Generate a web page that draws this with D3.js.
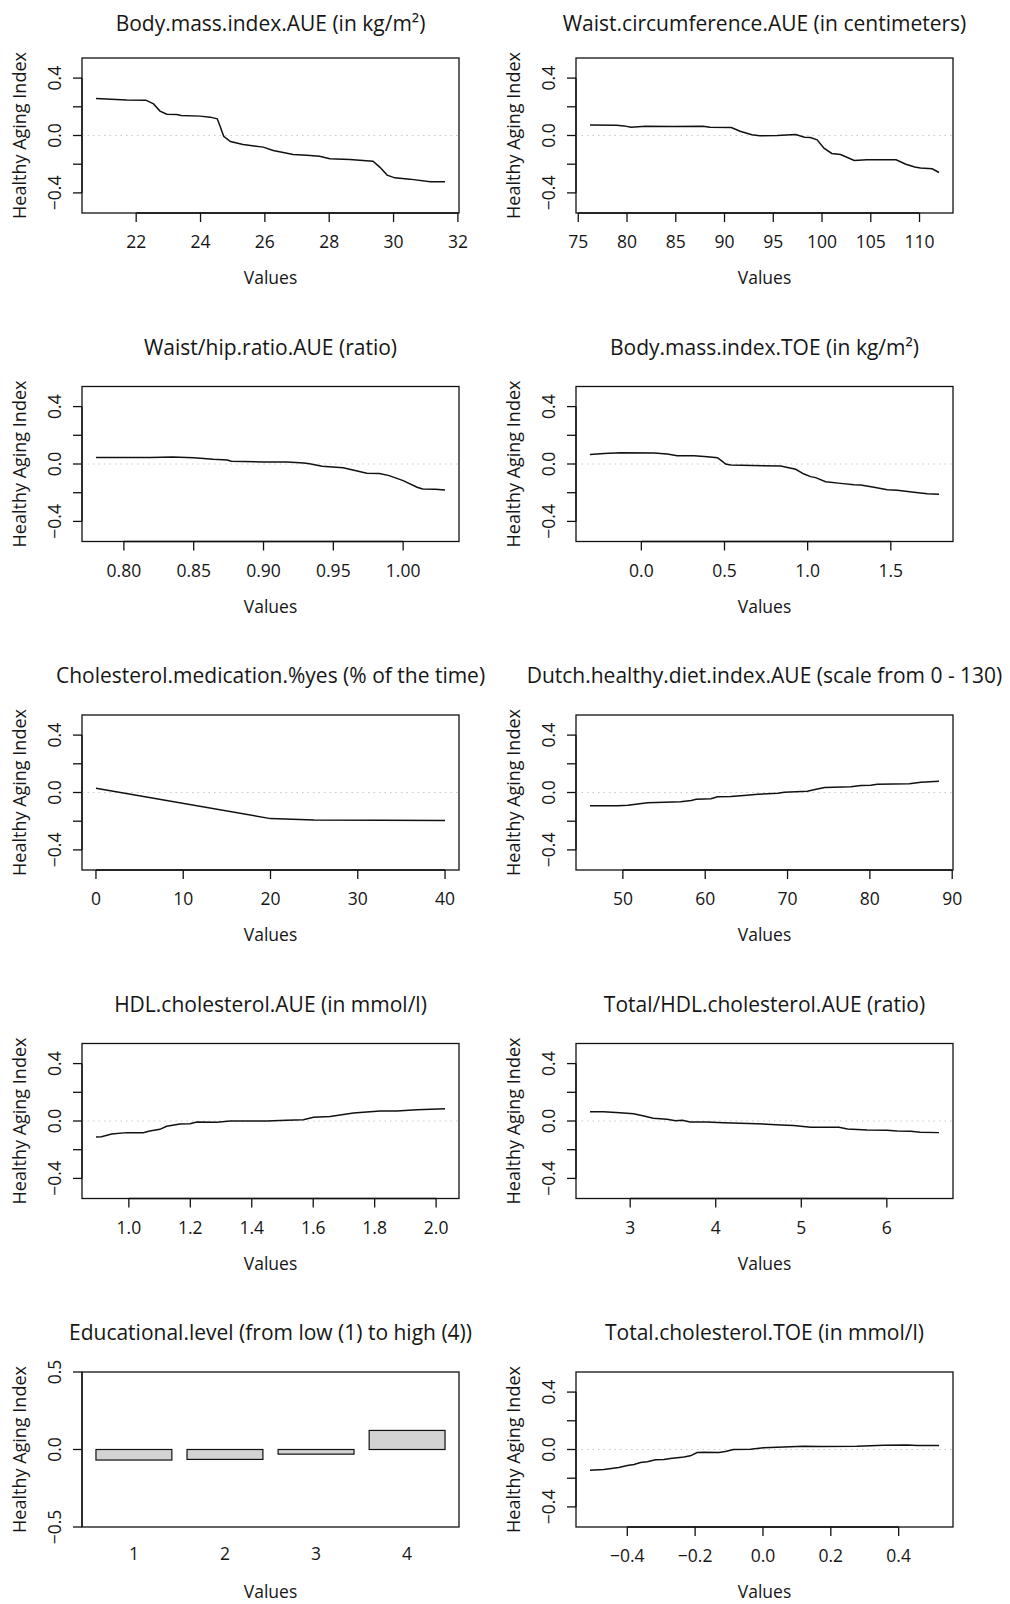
<!DOCTYPE html>
<html>
<head>
<meta charset="utf-8">
<script src="https://cdn.jsdelivr.net/npm/d3@7"></script>
<style>
  body { margin: 0; background: #fff; }
  text { font-family: "Open Sans", sans-serif; fill: #161616; }
</style>
</head>
<body>
<svg id="chart"></svg>
<script>
// values, [x, effect]
const bmiAue = [[20.75,0.258],[21.7,0.248],[22.3,0.246],[22.54,0.22],[22.74,0.17],[22.95,0.148],
  [23.26,0.146],[23.4,0.139],[23.99,0.135],[24.3,0.128],[24.52,0.116],[24.6,0.07],[24.72,-0.005],
  [24.93,-0.042],[25.32,-0.063],[25.95,-0.081],[26.26,-0.104],[26.88,-0.132],[27.3,-0.137],
  [27.7,-0.144],[28.02,-0.162],[28.64,-0.167],[29.05,-0.174],[29.36,-0.179],[29.57,-0.22],
  [29.8,-0.276],[30.04,-0.295],[30.5,-0.304],[31.14,-0.322],[31.6,-0.322]];

const waistAue = [[76.2,0.074],[78.9,0.072],[79.7,0.067],[80.4,0.058],[81.9,0.065],[84.7,0.063],
  [87.8,0.065],[88.5,0.058],[90.7,0.056],[91.6,0.03],[92.8,0.005],[93.6,-0.002],[95.4,0],
  [97.3,0.007],[98.2,-0.012],[98.8,-0.014],[99.5,-0.03],[100.2,-0.088],[101.0,-0.125],
  [101.9,-0.132],[103.3,-0.174],[104.6,-0.169],[107.6,-0.169],[108.6,-0.2],[109.5,-0.22],
  [110.1,-0.227],[111.3,-0.232],[112.0,-0.258]];

const whrAue = [[0.780,0.046],[0.819,0.046],[0.835,0.049],[0.850,0.044],[0.864,0.033],[0.874,0.028],
  [0.877,0.019],[0.900,0.014],[0.917,0.014],[0.929,0.007],[0.933,0.002],[0.942,-0.016],
  [0.957,-0.026],[0.964,-0.042],[0.974,-0.065],[0.983,-0.067],[0.990,-0.081],[1.000,-0.116],
  [1.010,-0.162],[1.014,-0.174],[1.023,-0.176],[1.030,-0.181]];

const bmiToe = [[-0.309,0.067],[-0.224,0.074],[-0.124,0.079],[0.076,0.077],[0.156,0.07],[0.216,0.058],
  [0.317,0.058],[0.397,0.051],[0.457,0.044],[0.481,0.023],[0.507,0],[0.537,-0.007],[0.838,-0.014],
  [0.928,-0.037],[0.978,-0.07],[1.018,-0.088],[1.048,-0.095],[1.108,-0.123],[1.198,-0.135],
  [1.279,-0.144],[1.319,-0.146],[1.399,-0.162],[1.479,-0.179],[1.539,-0.183],[1.639,-0.197],
  [1.719,-0.207],[1.79,-0.211]];

const cholMed = [[0,0.03],[20,-0.182],[25,-0.192],[40,-0.195]];

const dhdiAue = [[46.0,-0.093],[49.4,-0.093],[50.6,-0.089],[53.0,-0.072],[55.0,-0.068],[57.0,-0.065],
  [58.3,-0.056],[58.9,-0.047],[60.7,-0.044],[61.5,-0.03],[63.1,-0.028],[64.7,-0.021],[66.4,-0.012],
  [68.8,-0.005],[69.6,0.002],[72.4,0.009],[73.2,0.019],[74.5,0.035],[77.7,0.04],[78.9,0.049],
  [80.1,0.051],[80.9,0.058],[84.8,0.061],[86.2,0.072],[88.4,0.079]];

const hdlAue = [[0.893,-0.111],[0.911,-0.109],[0.944,-0.09],[0.993,-0.081],[1.047,-0.081],[1.068,-0.07],
  [1.101,-0.058],[1.123,-0.037],[1.166,-0.021],[1.199,-0.019],[1.221,-0.007],[1.286,-0.009],
  [1.33,0],[1.449,0],[1.514,0.005],[1.568,0.009],[1.601,0.026],[1.655,0.032],[1.731,0.056],
  [1.774,0.063],[1.818,0.07],[1.872,0.07],[1.937,0.079],[2.029,0.086]];

const totHdlAue = [[2.53,0.065],[2.69,0.065],[2.88,0.058],[3.04,0.051],[3.16,0.035],[3.27,0.019],
  [3.43,0.012],[3.53,0.002],[3.61,0.005],[3.70,-0.007],[3.90,-0.007],[4.09,-0.012],[4.48,-0.019],
  [4.76,-0.028],[4.91,-0.032],[5.11,-0.044],[5.44,-0.044],[5.54,-0.056],[5.77,-0.063],[6.0,-0.065],
  [6.12,-0.07],[6.28,-0.072],[6.39,-0.079],[6.61,-0.081]];

const eduLevels = ["1", "2", "3", "4"];
const eduValues = [-0.068, -0.064, -0.03, 0.123];

const totCholToe = [[-0.51,-0.144],[-0.469,-0.139],[-0.425,-0.125],[-0.4,-0.111],[-0.38,-0.104],
  [-0.361,-0.09],[-0.341,-0.086],[-0.317,-0.072],[-0.292,-0.07],[-0.273,-0.063],[-0.233,-0.053],
  [-0.214,-0.044],[-0.194,-0.021],[-0.175,-0.019],[-0.13,-0.021],[-0.111,-0.014],[-0.087,0],
  [-0.037,0.002],[0.002,0.012],[0.041,0.016],[0.12,0.023],[0.169,0.021],[0.277,0.023],
  [0.356,0.03],[0.425,0.032],[0.455,0.028],[0.519,0.028]];

const titles = [
  "Body.mass.index.AUE (in kg/m\u00B2)", "Waist.circumference.AUE (in centimeters)",
  "Waist/hip.ratio.AUE (ratio)", "Body.mass.index.TOE (in kg/m\u00B2)",
  "Cholesterol.medication.%yes (% of the time)", "Dutch.healthy.diet.index.AUE (scale from 0 - 130)",
  "HDL.cholesterol.AUE (in mmol/l)", "Total/HDL.cholesterol.AUE (ratio)",
  "Educational.level (from low (1) to high (4))", "Total.cholesterol.TOE (in mmol/l)"
];

const xTicks = [
  ["22","24","26","28","30","32"],
  ["75","80","85","90","95","100","105","110"],
  ["0.80","0.85","0.90","0.95","1.00"],
  ["0.0","0.5","1.0","1.5"],
  ["0","10","20","30","40"],
  ["50","60","70","80","90"],
  ["1.0","1.2","1.4","1.6","1.8","2.0"],
  ["3","4","5","6"],
  null,
  ["\u22120.4","\u22120.2","0.0","0.2","0.4"]
];

const yTicks = [-0.4, -0.2, 0, 0.2, 0.4];
const yLabelled = ["\u22120.4", "", "0.0", "", "0.4"];
const barTicks = [-0.5, 0, 0.5];
const barTickLabels = ["\u22120.5", "0.0", "0.5"];

const series = [bmiAue, waistAue, whrAue, bmiToe, cholMed, dhdiAue, hdlAue, totHdlAue, null, totCholToe];

const WIDTH = 1010, HEIGHT = 1604;
const COL_LEFT = [82, 576];
const PLOT_W = 377, PLOT_H = 155;
const ROW_TOP = 58, ROW_STEP = 328.5;

const svg = d3.select('#chart').attr('width', WIDTH).attr('height', HEIGHT);
svg.append('rect').attr('width', WIDTH).attr('height', HEIGHT).attr('fill', '#fff');

const num = s => +s.replace('\u2212', '-');

// R pads the data range by 4% on each side
function rRange(lo, hi) {
  const pad = (hi - lo) * 0.04;
  return [lo - pad, hi + pad];
}

titles.forEach((title, i) => {
  const col = i % 2, row = Math.floor(i / 2);
  const left = COL_LEFT[col];
  const top = ROW_TOP + row * ROW_STEP;
  const g = svg.append('g').attr('transform', `translate(${left},${top})`);
  const isBar = series[i] === null;

  g.append('text')
    .attr('x', PLOT_W / 2)
    .attr('y', row === 0 ? -27 : -32)
    .attr('text-anchor', 'middle')
    .attr('font-size', '21px')
    .text(title);

  g.append('text')
    .attr('x', PLOT_W / 2)
    .attr('y', PLOT_H + 71)
    .attr('text-anchor', 'middle')
    .attr('font-size', '17.5px')
    .text('Values');

  g.append('text')
    .attr('transform', `translate(-56,${PLOT_H / 2}) rotate(-90)`)
    .attr('text-anchor', 'middle')
    .attr('font-size', '18px')
    .text('Healthy Aging Index');

  let y, ticks, tickLabels;
  if (isBar) {
    y = d3.scaleLinear().domain([-0.5, 0.5]).range([PLOT_H, 0]);
    ticks = barTicks; tickLabels = barTickLabels;
  } else {
    y = d3.scaleLinear().domain(rRange(-0.5, 0.5)).range([PLOT_H, 0]);
    ticks = yTicks; tickLabels = yLabelled;
  }

  // y axis
  const yAxis = g.append('g');
  yAxis.append('line')
    .attr('x1', 0).attr('x2', 0)
    .attr('y1', y(ticks[0])).attr('y2', y(ticks[ticks.length - 1]))
    .attr('stroke', '#111').attr('stroke-width', 1.3);
  ticks.forEach((t, k) => {
    yAxis.append('line')
      .attr('x1', -9).attr('x2', 0)
      .attr('y1', y(t)).attr('y2', y(t))
      .attr('stroke', '#111').attr('stroke-width', 1.3);
    if (tickLabels[k]) {
      yAxis.append('text')
        .attr('transform', `translate(-21,${y(t)}) rotate(-90)`)
        .attr('text-anchor', 'middle')
        .attr('font-size', '17.5px')
        .text(tickLabels[k]);
    }
  });

  if (isBar) {
    const x = d3.scaleLinear().domain(rRange(0.2, 4.8)).range([0, PLOT_W]);
    eduValues.forEach((v, k) => {
      const x0 = 0.2 + k * 1.2;
      g.append('rect')
        .attr('x', x(x0)).attr('width', x(x0 + 1) - x(x0))
        .attr('y', y(Math.max(v, 0))).attr('height', Math.abs(y(v) - y(0)))
        .attr('fill', '#d3d3d3').attr('stroke', '#111').attr('stroke-width', 1.2);
      g.append('text')
        .attr('x', x(x0 + 0.5)).attr('y', PLOT_H + 33)
        .attr('text-anchor', 'middle')
        .attr('font-size', '17.5px')
        .text(eduLevels[k]);
    });
  } else {
    const data = series[i];
    const x = d3.scaleLinear().domain(rRange(d3.min(data, d => d[0]), d3.max(data, d => d[0]))).range([0, PLOT_W]);

    // x axis
    const xs = xTicks[i].map(num);
    g.append('line')
      .attr('x1', x(xs[0])).attr('x2', x(xs[xs.length - 1]))
      .attr('y1', PLOT_H).attr('y2', PLOT_H)
      .attr('stroke', '#111').attr('stroke-width', 1.3);
    xTicks[i].forEach(lbl => {
      const px = x(num(lbl));
      g.append('line')
        .attr('x1', px).attr('x2', px)
        .attr('y1', PLOT_H).attr('y2', PLOT_H + 9)
        .attr('stroke', '#111').attr('stroke-width', 1.3);
      g.append('text')
        .attr('x', px).attr('y', PLOT_H + 35)
        .attr('text-anchor', 'middle')
        .attr('font-size', '17.5px')
        .text(lbl);
    });

    // zero reference
    g.append('line')
      .attr('x1', 0).attr('x2', PLOT_W)
      .attr('y1', y(0)).attr('y2', y(0))
      .attr('stroke', '#c8c8c8').attr('stroke-width', 1)
      .attr('stroke-dasharray', '1.5,4');

    g.append('path')
      .datum(data)
      .attr('fill', 'none')
      .attr('stroke', '#111')
      .attr('stroke-width', 1.5)
      .attr('d', d3.line().x(d => x(d[0])).y(d => y(d[1])));
  }

  g.append('rect')
    .attr('width', PLOT_W).attr('height', PLOT_H)
    .attr('fill', 'none')
    .attr('stroke', '#111').attr('stroke-width', 1.3);
});
</script>
</body>
</html>
